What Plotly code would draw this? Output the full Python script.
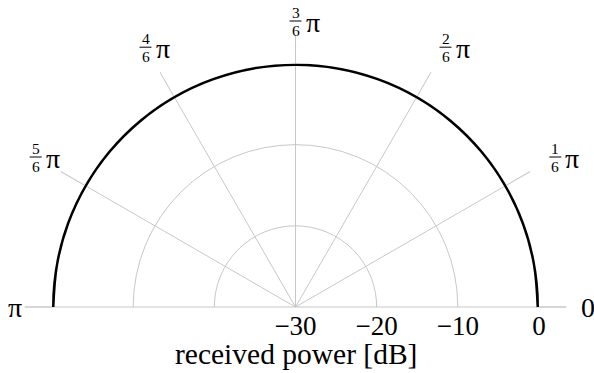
import math
import plotly.graph_objects as go

# Received power versus direction (dB), upper half-plane
theta_deg = [0, 10, 20, 30, 40, 50, 60, 70, 80, 90,
             100, 110, 120, 130, 140, 150, 160, 170, 180]
power_db = [0, 0, 0, 0, 0, 0, 0, 0, 0, 0,
            0, 0, 0, 0, 0, 0, 0, 0, 0]

radial_ticks = [-30, -20, -10, 0]
angle_ticks = [0, 30, 60, 90, 120, 150, 180]
angle_numerators = [None, 1, 2, 3, 4, 5, None]
angle_denominator = 6
end_labels = {0: "0", 180: "π"}

W, H = 594, 373
GRID = "#c8c8c8"
FONT = "Liberation Serif"

# polar area (paper fractions); the half disc fills it exactly
dom_x = [52 / W, 539 / W]
dom_y = [66 / H, 309.5 / H]
cx = (dom_x[0] + dom_x[1]) / 2 * W
cy = (1 - dom_y[0]) * H
R = (dom_x[1] - dom_x[0]) * W / 2
TICKLEN = 27

fig = go.Figure()
# lines are clipped to the polar area, so only the inner half of the stroke shows
fig.add_trace(go.Scatterpolar(
    theta=theta_deg, r=power_db, mode="lines",
    line=dict(color="black", width=5, shape="spline"),
    showlegend=False, hoverinfo="skip",
))


def px(x):
    return x / W


def py(y):
    return 1 - y / H


annotations = []
shapes = []
for ang, num in zip(angle_ticks, angle_numerators):
    a = math.radians(ang)
    if num is None:
        # tick marks on the base line, drawn by hand at the sector ends
        sgn = 1 if ang == 0 else -1
        shapes.append(dict(type="line", xref="paper", yref="paper",
                           x0=px(cx + sgn * R), x1=px(cx + sgn * (R + TICKLEN)),
                           y0=py(cy), y1=py(cy), layer="below",
                           line=dict(color=GRID, width=1)))
        text = end_labels[ang]
        if ang == 0:
            annotations.append(dict(x=px(cx + R + TICKLEN + 13), y=py(cy), text=text,
                                    xanchor="left", yanchor="middle", showarrow=False,
                                    font=dict(family=FONT, size=28, color="black")))
        else:
            annotations.append(dict(x=px(cx - R - TICKLEN - 1), y=py(cy), text=text,
                                    xanchor="right", yanchor="middle", showarrow=False,
                                    font=dict(family=FONT, size=28, color="black")))
        continue
    # fraction centre, kept inside the top edge of the page
    fx = cx + 300 * math.cos(a)
    fy = max(cy - 300 * math.sin(a), 21)
    frac = (f"<span style='font-size:15.5px'>{num}</span><br>"
            f"<span style='font-size:15.5px'>{angle_denominator}</span>")
    annotations.append(dict(x=px(fx), y=py(fy), text=frac, xanchor="center",
                            yanchor="middle", showarrow=False,
                            font=dict(family=FONT, size=13.5, color="black")))
    shapes.append(dict(type="line", xref="paper", yref="paper",
                       x0=px(fx - 6), x1=px(fx + 6), y0=py(fy), y1=py(fy),
                       line=dict(color="black", width=1)))
    annotations.append(dict(x=px(fx + 8), y=py(fy + 1), text="π", xanchor="left",
                            yanchor="middle", showarrow=False,
                            font=dict(family=FONT, size=28, color="black")))

annotations.append(dict(x=px(cx), y=py(354), text="received power [dB]",
                        xanchor="center", yanchor="middle", showarrow=False,
                        font=dict(family=FONT, size=29.5, color="black")))

fig.update_layout(
    width=W, height=H,
    margin=dict(l=0, r=0, t=0, b=0),
    paper_bgcolor="white",
    polar=dict(
        domain=dict(x=dom_x, y=dom_y),
        sector=[0, 180],
        bgcolor="white",
        radialaxis=dict(range=[-30, 0], tickmode="array", tickvals=radial_ticks,
                        showline=False, ticks="", gridcolor=GRID, gridwidth=1,
                        angle=0, side="clockwise",
                        tickfont=dict(family=FONT, size=27, color="black")),
        angularaxis=dict(tickmode="array", tickvals=angle_ticks, ticks="outside",
                         ticklen=TICKLEN, tickcolor=GRID, tickwidth=1,
                         showticklabels=False, showline=False, gridcolor=GRID,
                         gridwidth=1, direction="counterclockwise", rotation=0),
    ),
    annotations=annotations,
    shapes=shapes,
)

fig.write_html("out.html")
